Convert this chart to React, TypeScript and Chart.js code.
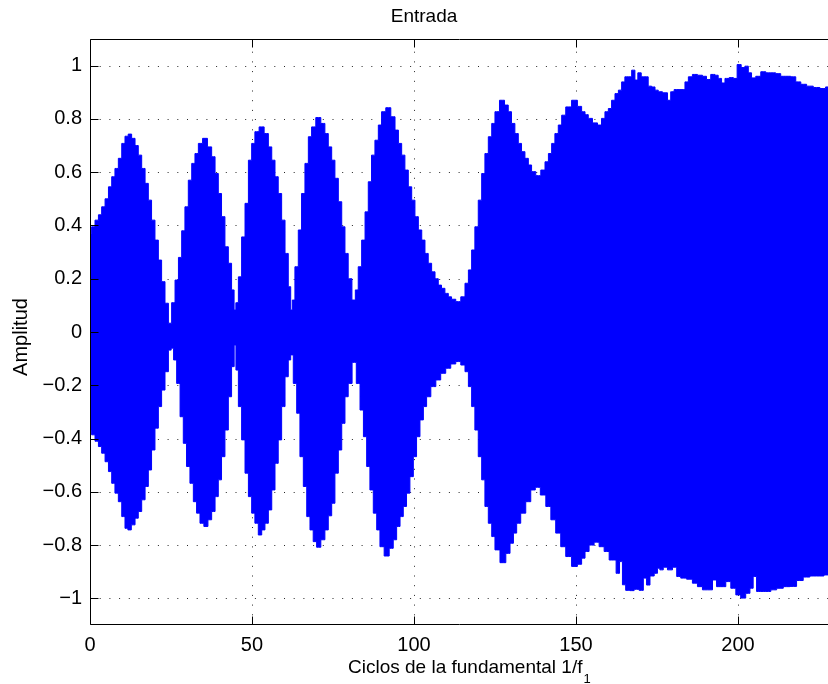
import { useEffect, useRef } from 'react';
import { Chart, registerables } from 'chart.js';

Chart.register(...registerables);

const TITLE = 'Entrada';
const X_LABEL = 'Ciclos de la fundamental 1/f';
const X_LABEL_SUB = '1';
const Y_LABEL = 'Amplitud';

const xTicks = [0, 50, 100, 150, 200];
const xTickLabels = ['0', '50', '100', '150', '200'];
const yTicks = [-1, -0.8, -0.6, -0.4, -0.2, 0, 0.2, 0.4, 0.6, 0.8, 1];
const yTickLabels = ['\u22121', '\u22120.8', '\u22120.6', '\u22120.4', '\u22120.2', '0', '0.2', '0.4', '0.6', '0.8', '1'];
const xRange = [0, 227.8];
const yRange = [-1.1, 1.1];

// Upper envelope of the input signal: [cycles, amplitude]
const upperEnvelope: [number, number][] = [
  [0, 0.37], [1, 0.395], [2.1, 0.42], [3.1, 0.44], [4.1, 0.47], [5.2, 0.5], [6.2, 0.545], [7.2, 0.583],
  [8.2, 0.614], [9.3, 0.652], [10.3, 0.708], [11.3, 0.735], [12.3, 0.743], [13.4, 0.727], [14.4, 0.7],
  [15.4, 0.664], [16.5, 0.614], [17.5, 0.558], [18.5, 0.495], [19.5, 0.42], [20.6, 0.345], [21.6, 0.27],
  [22.6, 0.189], [23.7, 0.108], [24.7, 0.033], [25.7, 0.11], [26.8, 0.195], [27.8, 0.28], [28.8, 0.38],
  [29.8, 0.47], [30.9, 0.57], [31.9, 0.633], [32.9, 0.67], [34, 0.708], [35.5, 0.727], [37, 0.695],
  [38.1, 0.658], [39.1, 0.595], [40.1, 0.52], [41.1, 0.433], [42.2, 0.32], [43.2, 0.258], [44.2, 0.158],
  [44.75, 0.083], [45.3, 0.11], [46.3, 0.207], [47.3, 0.357], [48.4, 0.483], [49.4, 0.645], [50.4, 0.708],
  [51.4, 0.752], [53, 0.77], [54.5, 0.745], [55.6, 0.695], [56.6, 0.645], [57.6, 0.583], [58.6, 0.52],
  [59.7, 0.42], [60.7, 0.295], [61.7, 0.17], [62.2, 0.083], [62.7, 0.12], [63.8, 0.245], [64.8, 0.383],
  [65.8, 0.52], [66.9, 0.633], [67.9, 0.733], [68.9, 0.77], [70.5, 0.805], [72, 0.783], [73, 0.745],
  [74.1, 0.695], [75.1, 0.645], [76.1, 0.577], [77.2, 0.489], [78.2, 0.395], [79.2, 0.295], [80.2, 0.2],
  [81.5, 0.12], [82.3, 0.158], [83.3, 0.245], [84.4, 0.345], [85.4, 0.451], [86.4, 0.564], [87.4, 0.664],
  [88.5, 0.72], [89.5, 0.777], [90.5, 0.827], [92.1, 0.842], [93.6, 0.808], [94.7, 0.758], [95.7, 0.708],
  [96.7, 0.664], [97.7, 0.608], [98.8, 0.545], [99.8, 0.495], [100.8, 0.433], [101.9, 0.383], [102.9, 0.345],
  [103.9, 0.295], [104.9, 0.258], [106, 0.226], [107, 0.2], [108, 0.176], [109, 0.164], [110.1, 0.145],
  [111.1, 0.132], [112.1, 0.123], [113.7, 0.114], [115.2, 0.132], [116.3, 0.183], [117.3, 0.233],
  [118.3, 0.308], [119.3, 0.395], [120.4, 0.495], [121.4, 0.595], [122.4, 0.67], [123.5, 0.733],
  [124.5, 0.783], [125.5, 0.827], [127.3, 0.87], [128.6, 0.852], [129.6, 0.827], [130.6, 0.783],
  [131.7, 0.745], [132.7, 0.708], [133.7, 0.677], [134.8, 0.652], [135.8, 0.627], [136.8, 0.602],
  [138.4, 0.587], [139.9, 0.608], [141, 0.639], [142, 0.67], [143, 0.708], [144, 0.745], [145.1, 0.777],
  [146.1, 0.814], [147.6, 0.845], [149.7, 0.87], [151.2, 0.847], [152.3, 0.827], [153.3, 0.816],
  [154.3, 0.802], [155.9, 0.785], [157.4, 0.777], [158.4, 0.802], [159.5, 0.827], [160.5, 0.839],
  [161.5, 0.87], [162.6, 0.895], [163.6, 0.908], [164.6, 0.939], [165.6, 0.958], [166.7, 0.958],
  [167.7, 0.983], [168.7, 0.946], [169.5, 0.973], [170.8, 0.958], [171.8, 0.958], [172.8, 0.923],
  [173.9, 0.92], [174.9, 0.908], [175.9, 0.902], [177.5, 0.898], [179, 0.87], [179.5, 0.902], [181.1, 0.91],
  [183.1, 0.91], [184.2, 0.939], [185.2, 0.958], [186.7, 0.967], [188.3, 0.964], [189.8, 0.96],
  [190.8, 0.948], [192.4, 0.967], [193.4, 0.964], [194.4, 0.952], [195.5, 0.935], [196.5, 0.952],
  [198.1, 0.955], [199.1, 0.952], [200.4, 1.004], [201.6, 0.993], [202.7, 0.998], [203.7, 0.973],
  [204.7, 0.954], [206.3, 0.96], [207.8, 0.977], [209.4, 0.973], [210.9, 0.973], [212.4, 0.97], [214, 0.96],
  [215.5, 0.96], [217.1, 0.958], [218.6, 0.939], [220.2, 0.93], [222.2, 0.923], [224.3, 0.918],
  [226.3, 0.914], [227.8, 0.92],
];

// Lower envelope of the input signal: [cycles, amplitude]
const lowerEnvelope: [number, number][] = [
  [0, -0.368], [1, -0.386], [2.1, -0.41], [3.1, -0.43], [4.1, -0.455], [5.2, -0.487], [6.2, -0.524],
  [7.2, -0.568], [8.2, -0.605], [9.3, -0.637], [10.3, -0.693], [11.3, -0.737], [12.1, -0.743],
  [13.4, -0.724], [14.4, -0.699], [15.4, -0.674], [16.5, -0.63], [17.5, -0.58], [18.5, -0.518],
  [19.5, -0.443], [20.6, -0.361], [21.6, -0.28], [22.6, -0.218], [23.7, -0.149], [24.7, -0.068],
  [25.4, -0.061], [26.2, -0.105], [27.3, -0.193], [28.3, -0.318], [29.3, -0.418], [30.3, -0.505],
  [31.4, -0.568], [32.4, -0.637], [33.4, -0.68], [34.5, -0.718], [35.8, -0.73], [37, -0.705], [38.1, -0.674],
  [39.1, -0.618], [40.1, -0.555], [41.1, -0.468], [42.2, -0.368], [43.2, -0.243], [44.2, -0.13],
  [44.8, -0.049], [45.3, -0.143], [46.3, -0.28], [47.3, -0.405], [48.4, -0.53], [49.4, -0.618],
  [50.4, -0.68], [51.4, -0.718], [52.5, -0.762], [53.5, -0.743], [54.5, -0.718], [55.6, -0.668],
  [56.6, -0.593], [57.6, -0.493], [58.6, -0.405], [59.7, -0.28], [60.7, -0.168], [61.7, -0.105],
  [62.2, -0.086], [63.3, -0.193], [64.3, -0.305], [65.3, -0.468], [66.4, -0.58], [67.4, -0.693],
  [68.4, -0.743], [69.4, -0.787], [70.5, -0.808], [72, -0.78], [73, -0.743], [74.1, -0.69], [75.1, -0.643],
  [76.1, -0.53], [77.2, -0.443], [78.2, -0.343], [79.2, -0.243], [80.2, -0.193], [81.6, -0.114],
  [82.8, -0.193], [83.9, -0.293], [84.9, -0.393], [85.9, -0.505], [86.9, -0.593], [88, -0.68], [89, -0.743],
  [90, -0.806], [91.6, -0.841], [93.1, -0.812], [94.1, -0.78], [95.2, -0.73], [96.2, -0.693], [97.2, -0.655],
  [98.2, -0.605], [99.3, -0.543], [100.3, -0.468], [101.3, -0.393], [102.4, -0.33], [103.4, -0.28],
  [104.4, -0.243], [106, -0.205], [107.5, -0.18], [109, -0.155], [110.6, -0.136], [112.1, -0.12],
  [113.7, -0.111], [115.2, -0.124], [116.3, -0.149], [117.3, -0.205], [118.3, -0.28], [119.3, -0.368],
  [120.4, -0.468], [121.4, -0.555], [122.4, -0.655], [123.5, -0.718], [124.5, -0.768], [125.5, -0.818],
  [127.6, -0.866], [129.1, -0.831], [130.2, -0.793], [131.2, -0.755], [132.2, -0.718], [133.7, -0.68],
  [135.3, -0.637], [136.8, -0.593], [138.1, -0.583], [139.9, -0.612], [141.5, -0.655], [143, -0.705],
  [144.5, -0.755], [146.1, -0.806], [147.6, -0.843], [149.7, -0.88], [151.2, -0.872], [152.3, -0.849],
  [153.3, -0.824], [154.8, -0.8], [156.4, -0.789], [157.9, -0.806], [159.5, -0.824], [161, -0.856],
  [162, -0.856], [162.8, -0.906], [164.1, -0.862], [164.6, -0.949], [166.1, -0.97], [167.2, -0.971],
  [168.7, -0.966], [170.3, -0.97], [171.3, -0.924], [172.3, -0.95], [173.4, -0.916], [174.9, -0.906],
  [175.4, -0.887], [176.4, -0.893], [177.5, -0.883], [179, -0.893], [180.6, -0.883], [181.6, -0.918],
  [183.1, -0.924], [185.2, -0.928], [186.7, -0.943], [188.3, -0.956], [189.8, -0.968], [191.4, -0.968],
  [192.9, -0.931], [193.9, -0.956], [195.5, -0.956], [197, -0.937], [198.6, -0.962], [200.1, -0.987],
  [201.6, -0.999], [203.2, -0.981], [204.2, -0.962], [205.2, -0.918], [206.3, -0.974], [207.8, -0.974],
  [209.4, -0.974], [210.9, -0.968], [213, -0.962], [215, -0.956], [217.1, -0.955], [219.1, -0.933],
  [221.2, -0.92], [223.2, -0.916], [225.3, -0.916], [227.8, -0.912],
];

const FONT = "'Liberation Sans', Arial, Helvetica, sans-serif";
const BLUE = '#0000ff';
const TICK_LEN = 8;

// Dotted grid below the data, then box, inward ticks and the text labels on top
const matlabFrame = {
  id: 'matlabFrame',
  beforeDatasetsDraw(chart: any) {
    const { ctx, chartArea: a, scales } = chart;
    const x = scales.x;
    const y = scales.y;
    ctx.save();
    ctx.strokeStyle = 'rgba(0,0,0,0.85)';
    ctx.lineWidth = 1;
    ctx.setLineDash([1, 8.7]);
    for (const v of xTicks) {
      if (v === xRange[0]) continue;
      const px = Math.round(x.getPixelForValue(v)) + 0.5;
      ctx.beginPath();
      ctx.moveTo(px, a.bottom);
      ctx.lineTo(px, a.top);
      ctx.stroke();
    }
    for (const v of yTicks) {
      const py = Math.round(y.getPixelForValue(v)) + 0.5;
      ctx.beginPath();
      ctx.moveTo(a.left, py);
      ctx.lineTo(a.right, py);
      ctx.stroke();
    }
    ctx.restore();
  },
  afterDatasetsDraw(chart: any) {
    const { ctx, chartArea: a, scales } = chart;
    const x = scales.x;
    const y = scales.y;
    const left = a.left + 0.5;
    const top = a.top + 0.5;
    const bottom = a.bottom - 0.5;
    const right = a.right + 0.5;
    ctx.save();
    ctx.setLineDash([]);
    ctx.strokeStyle = '#000';
    ctx.lineWidth = 1;
    ctx.beginPath();
    ctx.moveTo(left, bottom);
    ctx.lineTo(left, top);
    ctx.lineTo(right, top);
    ctx.moveTo(left, bottom);
    ctx.lineTo(right, bottom);
    for (const v of xTicks) {
      const px = Math.round(x.getPixelForValue(v)) + 0.5;
      ctx.moveTo(px, bottom);
      ctx.lineTo(px, bottom - TICK_LEN);
      ctx.moveTo(px, top);
      ctx.lineTo(px, top + TICK_LEN);
    }
    for (const v of yTicks) {
      const py = Math.round(y.getPixelForValue(v)) + 0.5;
      ctx.moveTo(left, py);
      ctx.lineTo(left + TICK_LEN, py);
    }
    ctx.stroke();
    ctx.restore();
  },
  afterDraw(chart: any) {
    const { ctx } = chart;
    ctx.save();
    ctx.fillStyle = '#000';
    ctx.textBaseline = 'alphabetic';

    // title
    ctx.font = `19px ${FONT}`;
    ctx.textAlign = 'center';
    ctx.fillText(TITLE, 424, 22);

    // x axis label with subscript
    ctx.textAlign = 'left';
    ctx.font = `19px ${FONT}`;
    const mainW = ctx.measureText(X_LABEL).width;
    const x0 = 348;
    ctx.fillText(X_LABEL, x0, 673);
    ctx.font = `13px ${FONT}`;
    ctx.fillText(X_LABEL_SUB, x0 + mainW + 1, 683);

    // y axis label
    ctx.font = `20px ${FONT}`;
    ctx.textAlign = 'center';
    ctx.translate(27, 337);
    ctx.rotate(-Math.PI / 2);
    ctx.fillText(Y_LABEL, 0, 0);
    ctx.restore();
  },
};

export default function App() {
  const canvasRef = useRef<HTMLCanvasElement | null>(null);

  useEffect(() => {
    const canvas = canvasRef.current;
    if (!canvas) return;
    const chart = new Chart(canvas, {
      type: 'line',
      data: {
        datasets: [
          {
            label: 'envolvente superior',
            data: upperEnvelope.map(([x, y]) => ({ x, y })),
            borderColor: BLUE,
            backgroundColor: BLUE,
            borderWidth: 1,
            pointRadius: 0,
            stepped: 'middle',
            fill: '+1',
          },
          {
            label: 'envolvente inferior',
            data: lowerEnvelope.map(([x, y]) => ({ x, y })),
            borderColor: BLUE,
            backgroundColor: BLUE,
            borderWidth: 1,
            pointRadius: 0,
            stepped: 'middle',
            fill: false,
          },
        ],
      },
      options: {
        animation: false,
        responsive: false,
        devicePixelRatio: 1,
        layout: { padding: { top: 39, right: 0, bottom: 0, left: 0 } },
        plugins: {
          legend: { display: false },
          tooltip: { enabled: false },
          title: { display: false },
        },
        scales: {
          x: {
            type: 'linear',
            min: xRange[0],
            max: xRange[1],
            grid: { display: false, drawTicks: false },
            border: { display: false },
            afterBuildTicks: (s: any) => {
              s.ticks = xTicks.map((value) => ({ value }));
            },
            afterFit: (s: any) => {
              s.height = 59;
            },
            ticks: {
              padding: 8,
              color: '#000',
              autoSkip: false,
              maxRotation: 0,
              font: { family: FONT, size: 20 },
              callback: (_v: any, i: number) => xTickLabels[i],
            },
          },
          y: {
            type: 'linear',
            min: yRange[0],
            max: yRange[1],
            grid: { display: false, drawTicks: false },
            border: { display: false },
            afterBuildTicks: (s: any) => {
              s.ticks = yTicks.map((value) => ({ value }));
            },
            afterFit: (s: any) => {
              s.width = 90;
            },
            ticks: {
              padding: 8,
              color: '#000',
              autoSkip: false,
              font: { family: FONT, size: 20 },
              callback: (_v: any, i: number) => yTickLabels[i],
            },
          },
        },
      },
      plugins: [matlabFrame],
    });
    return () => chart.destroy();
  }, []);

  return (
    <div style={{ position: 'absolute', left: 0, top: 0, width: 828, height: 684, background: '#fff' }}>
      <canvas ref={canvasRef} width={828} height={684} style={{ display: 'block', width: 828, height: 684 }} />
    </div>
  );
}
